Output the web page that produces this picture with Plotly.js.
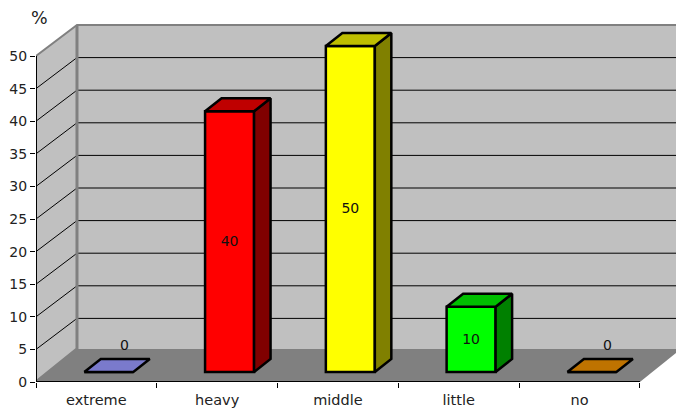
<!DOCTYPE html>
<html><head><meta charset="utf-8">
<script src="https://cdn.plot.ly/plotly-3.0.1.min.js"></script>
<style>html,body{margin:0;padding:0;background:#fff}#c{width:676px;height:411px}</style>
</head><body><div id="c"></div>
<script>
const categories = ['extreme','heavy','middle','little','no'];
const values = [0,40,50,10,0];
const frontColors = ['#9999ff','#ff0000','#ffff00','#00ff00','#ff9900'];
const topColors = ['#7a7acc','#bf0000','#bfbf00','#00bf00','#bf7300'];
const sideColors = ['#5c5c99','#800000','#808000','#008000','#804d00'];
const yTicks = [0,5,10,15,20,25,30,35,40,45,50];

const pxX = 120.8, pxY = 6.52;
const W = 676, H = 411, L = 36, B = 29, T = 20;
const wallDx = 41/pxX, wallDy = 31/pxY, floorDy = 33/pxY;
const barShift = 12.4/pxX, barW = 49/pxX, barBase = 10/pxY, barDx = 16.5/pxX, barDy = 13/pxY;
const x0 = -0.5, xN = categories.length - 0.5, xR = x0 + (W-L)/pxX + 0.001;
const yMax = (H-B-T)/pxY;
const fontFam = 'DejaVu Sans, Verdana, sans-serif';
const poly = pts => 'M' + pts.map(p => p[0]+' '+p[1]).join('L') + 'Z';
const line = pts => 'M' + pts.map(p => p[0]+' '+p[1]).join('L');
const wallEdge = {color:'#808080', width:2};
const shapes = [];
const add = (path, fill, ln) => shapes.push({type:'path', xref:'x', yref:'y', layer:'below', path, fillcolor:fill||'rgba(0,0,0,0)', line: ln||{width:0}});
const yTop = yTicks[yTicks.length-1];
// back wall, side wall, floor
add(poly([[x0+wallDx,floorDy],[xR+1,floorDy],[xR+1,yTop+wallDy],[x0+wallDx,yTop+wallDy]]), '#c0c0c0');
add(poly([[x0,0],[x0+wallDx,floorDy],[x0+wallDx,yTop+wallDy],[x0,yTop]]), '#c0c0c0');
add(poly([[x0,0],[xN,0],[xN+wallDx,floorDy],[x0+wallDx,floorDy]]), '#808080');
yTicks.slice(1,-1).forEach(v => add(line([[x0,v],[x0+wallDx,v+wallDy],[xR+1,v+wallDy]]), null, {color:'#000',width:1}));
add(line([[x0,yTop],[x0+wallDx,yTop+wallDy],[xR+1,yTop+wallDy]]), null, wallEdge);
add(line([[x0+wallDx,yTop+wallDy],[x0+wallDx,floorDy],[x0,0]]), null, {color:'#808080',width:3});

const xs = categories.map((c,i) => i + barShift);
const traces = [{
  type:'bar', x:xs, y:values, base:values.map(()=>barBase), width:barW,
  marker:{color:frontColors, line:{color:'#000',width:2.5}}, hoverinfo:'skip'
}];
categories.forEach((c,i) => {
  const a = xs[i]-barW/2, b = xs[i]+barW/2, lo = barBase, hi = barBase+values[i];
  const face = (px,py,col) => traces.push({type:'scatter',mode:'lines',x:px,y:py,fill:'toself',fillcolor:col,
    line:{color:'#000',width:2.5,shape:'linear'},hoverinfo:'skip'});
  if (values[i] > 0) face([b,b+barDx,b+barDx,b,b],[lo,lo+barDy,hi+barDy,hi,lo],sideColors[i]);
  face([a,b,b+barDx,a+barDx,a],[hi,hi,hi+barDy,hi+barDy,hi],topColors[i]);
});
// value labels
traces.push({type:'scatter',mode:'text',
  x:xs.map((x,i)=>values[i]>0?x:x+barDx*0.95),
  y:values.map(v=>v>0?barBase+v/2-0.15:barBase+barDy+1.95),
  text:values.map(String),textposition:'middle center',
  textfont:{family:fontFam,size:14,color:'#111'},hoverinfo:'skip'});
// axis lines
traces.push({type:'scatter',mode:'lines',x:[x0,x0,xN],y:[yTop,0,0],line:{color:'#000',width:2},cliponaxis:false,hoverinfo:'skip'});

const layout = {
  width:W,height:H,margin:{l:L,r:0,t:T,b:B,pad:0},
  paper_bgcolor:'#fff',plot_bgcolor:'#fff',showlegend:false,barmode:'overlay',
  font:{family:fontFam,size:14,color:'#222'},
  xaxis:{range:[x0,xR],tickmode:'array',tickvals:categories.map((c,i)=>i),ticktext:categories,
    tickfont:{family:fontFam,size:14.5,color:'#222'},
    ticks:'outside',ticklen:5,tickcolor:'rgba(0,0,0,0)',showgrid:false,zeroline:false,showline:false,
    minor:{tickmode:'array',tickvals:categories.map((c,i)=>i-0.5).concat([xN]),ticks:'outside',ticklen:5,tickwidth:1,tickcolor:'#000',showgrid:false}},
  yaxis:{range:[0,yMax],tickmode:'array',tickvals:yTicks,ticks:'outside',ticklen:5,tickwidth:1,tickcolor:'#000',
    showgrid:false,zeroline:false,showline:false},
  shapes,
  annotations:[{text:'%',xref:'paper',yref:'paper',x:3.5/(W-L),y:(H-B-18)/(H-B-T),xanchor:'center',yanchor:'middle',showarrow:false,
    font:{family:fontFam,size:17.5,color:'#222'}}]
};
Plotly.newPlot('c',traces,layout,{staticPlot:true,displayModeBar:false});
</script></body></html>
